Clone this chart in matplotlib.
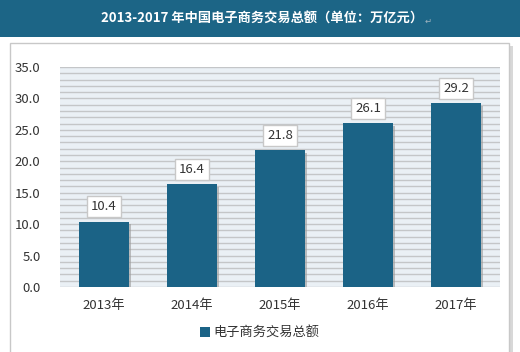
import matplotlib.pyplot as plt
from matplotlib.patches import Rectangle
import matplotlib.patheffects as pe

plt.rcParams['font.family'] = ['Noto Sans CJK SC', 'DejaVu Sans']

# 数据
years = ['2013年', '2014年', '2015年', '2016年', '2017年']
values = [10.4, 16.4, 21.8, 26.1, 29.2]
series_name = '电子商务交易总额'
title = '2013-2017 年中国电子商务交易总额（单位：万亿元）'

W, H = 520, 352
fig = plt.figure(figsize=(W / 100, H / 100), dpi=100)
fig.patch.set_facecolor('white')

# 标题横幅
fig.patches.append(Rectangle((0, 1 - 37 / H), 1, 37 / H, transform=fig.transFigure,
                             facecolor='#1c6586', edgecolor='none', zorder=-2))
fig.text(262 / W, 1 - 19 / H, title, ha='center', va='center', color='white',
         fontsize=9.5, fontweight='bold')
fig.text(425 / W, 1 - 21 / H, '↵', ha='left', va='center', color='#a0b4c0', fontsize=6)

# 图表外框（带阴影）
fig.patches.append(Rectangle((13 / W, 0), 500 / W, 1 - 46 / H, transform=fig.transFigure,
                             facecolor='#d8d8d8', edgecolor='none', zorder=-2))
fig.patches.append(Rectangle((10 / W, -0.01), 499 / W, 1 - 43 / H + 0.01, transform=fig.transFigure,
                             facecolor='white', edgecolor='#c8c8c8', linewidth=1, zorder=-1))

ax = fig.add_axes([60 / W, 1 - 287 / H, 440 / W, 220 / H])
ax.set_zorder(2)
ax.set_facecolor('#eaf0f5')
x = range(len(years))
bars = ax.bar(x, values, width=0.56, color='#1b6386', zorder=3, label=series_name,
              path_effects=[pe.SimplePatchShadow(offset=(2, -2), shadow_rgbFace='#999999', alpha=0.6),
                            pe.Normal()])

ax.set_ylim(0, 35)
ax.set_xlim(-0.5, 4.5)
ax.set_yticks(range(0, 36, 5))
ax.set_yticklabels([f'{v:.1f}' for v in range(0, 36, 5)])
ax.set_yticks(range(0, 36, 1), minor=True)
ax.yaxis.grid(True, which='both', color='#c4c6c8', linewidth=1, zorder=0)
ax.set_axisbelow(True)
ax.set_xticks(list(x))
ax.set_xticklabels(years)
ax.tick_params(axis='both', which='both', length=0, labelsize=9.5, colors='#333333')
ax.tick_params(axis='y', pad=14)
ax.tick_params(axis='x', pad=9)
for s in ax.spines.values():
    s.set_visible(False)

for i, v in enumerate(values):
    ax.annotate(f'{v:.1f}', (i, v), xytext=(0, 6), textcoords='offset points',
                ha='center', va='bottom', fontsize=9.5, color='#333333', zorder=5,
                bbox=dict(boxstyle='square,pad=0.3', facecolor='white', edgecolor='#c8c8c8', linewidth=1))

leg = fig.legend(loc='center', bbox_to_anchor=(0.5, 1 - 333 / H), frameon=False,
                 fontsize=9.5, handlelength=0.7, handleheight=0.7, handletextpad=0.3)
leg.set_zorder(3)
for h in leg.legend_handles:
    h.set_path_effects([])
for t in leg.get_texts():
    t.set_color('#333333')

fig.savefig('out.png', dpi=100)
